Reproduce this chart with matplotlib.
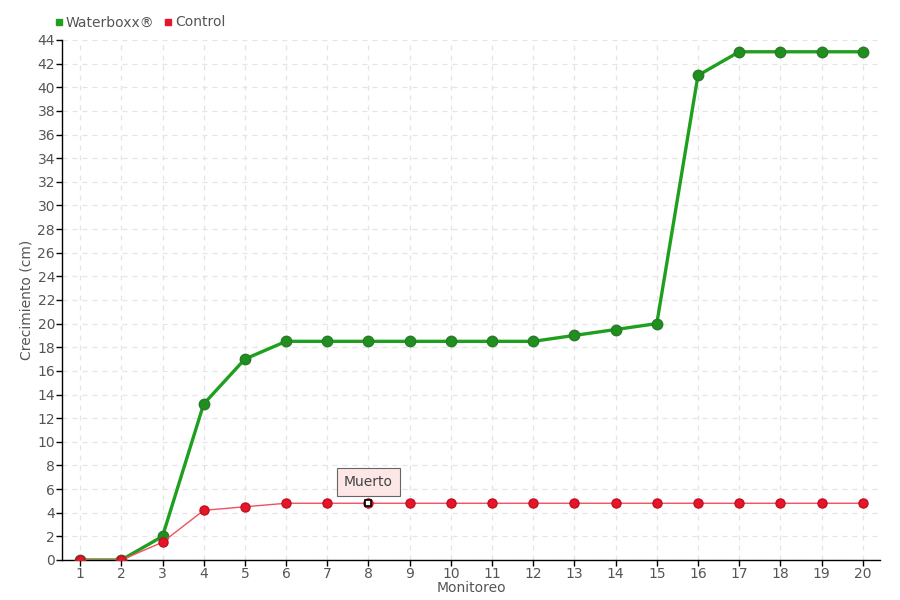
import matplotlib
matplotlib.use("Agg")
import matplotlib.pyplot as plt
from matplotlib.lines import Line2D

monitoreo = list(range(1, 21))
waterboxx = [0, 0, 2, 13.2, 17, 18.5, 18.5, 18.5, 18.5, 18.5, 18.5, 18.5, 19, 19.5, 20, 41, 43, 43, 43, 43]
control = [0, 0, 1.5, 4.2, 4.5, 4.8, 4.8, 4.8, 4.8, 4.8, 4.8, 4.8, 4.8, 4.8, 4.8, 4.8, 4.8, 4.8, 4.8, 4.8]
y_ticks = list(range(0, 45, 2))
dead_index = 7  # Monitoreo 8, control
dead_label = "Muerto"

plt.rcParams['font.family'] = ['DejaVu Sans']
txt = '#555555'
fs = 10

fig = plt.figure(figsize=(9, 6), dpi=100)
ax = fig.add_axes([0.0689, 0.0667, 0.9089, 0.8667])

ax.plot(monitoreo, waterboxx, color='#1ea01e', lw=2.4, marker='o', ms=7.5,
        markerfacecolor='#1f8f1f', markeredgecolor='#2a7a2a', markeredgewidth=1, zorder=3)
ax.plot(monitoreo, control, color='#f2505f', lw=1, marker='o', ms=6.5,
        markerfacecolor='#e8142a', markeredgecolor='#c01020', markeredgewidth=1, zorder=4)
ax.plot([monitoreo[dead_index]], [control[dead_index]], marker='s', ms=4,
        markerfacecolor='white', markeredgecolor='black', markeredgewidth=1.2, zorder=5, ls='none')

ax.annotate(dead_label, xy=(monitoreo[dead_index], control[dead_index]),
            xytext=(0, 15), textcoords='offset points', ha='center', va='center',
            fontsize=fs, color='#444444',
            bbox=dict(boxstyle='square,pad=0.5', facecolor='#fde6e6', edgecolor='#666666', lw=0.8),
            zorder=6)

ax.set_xlim(0.56, 20.42)
ax.set_ylim(0, 44)
ax.set_xticks(monitoreo)
ax.set_yticks(y_ticks)
ax.tick_params(axis='both', colors='black', labelcolor=txt, labelsize=fs, length=4, width=1)
ax.tick_params(axis='x', pad=1)
ax.tick_params(axis='y', pad=1)
for s in ['top', 'right']:
    ax.spines[s].set_visible(False)
for s in ['left', 'bottom']:
    ax.spines[s].set_color('black')
    ax.spines[s].set_linewidth(1)
ax.grid(True, color='#e4e4e4', ls=(0, (4, 4)), lw=0.9)
ax.set_axisbelow(True)

ax.set_xlabel('Monitoreo', color=txt, fontsize=fs, labelpad=0)
ax.set_ylabel('Crecimiento (cm)', color=txt, fontsize=fs, labelpad=3)

handles = [Line2D([], [], ls='none', marker='s', ms=5, color='#1ea01e'),
           Line2D([], [], ls='none', marker='s', ms=5, color='#e8142a')]
fig.legend(handles, ['Waterboxx®', 'Control'], loc='upper left', bbox_to_anchor=(0.045, 0.995),
           ncol=2, frameon=False, fontsize=fs, handletextpad=0.1, columnspacing=0.6,
           handlelength=0.8, labelcolor=txt)

fig.savefig('out.png', dpi=100)
